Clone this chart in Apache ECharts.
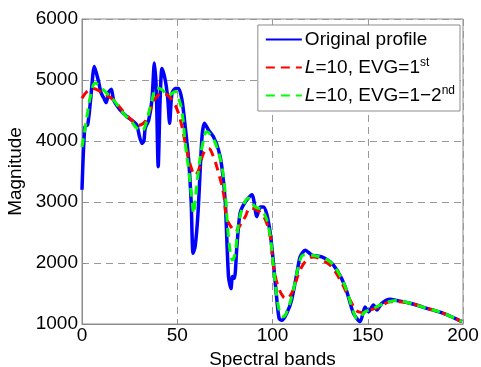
<!DOCTYPE html>
<html>
<head>
<meta charset="utf-8">
<script src="https://cdn.jsdelivr.net/npm/echarts@6/dist/echarts.min.js"></script>
<style>
  html, body { margin: 0; padding: 0; background: #fff; }
  #main { width: 481px; height: 367px; }
</style>
</head>
<body>
<div id="main"></div>
<script>
// axis ticks
var xTicks = [0, 50, 100, 150, 200];
var yTicks = [1000, 2000, 3000, 4000, 5000, 6000];

// original profile
var origBands = [0, 1.5, 3, 4.5, 6.5, 8.5, 10, 11.5, 12.7, 14, 15.4, 16.6, 20, 23.6, 27, 28.8, 30.2, 31.5, 32.5, 33.2,
  35, 36.7, 38, 39, 40, 41, 42, 43.7, 45, 46, 47.2, 49, 50.7, 52.5, 54.2, 56, 57.3, 58.3, 59.4, 60.9,
  63, 64.3, 66.4, 69, 71.7, 73.4, 75.2, 76.9, 78.2, 79, 80, 81.3, 83, 85.7, 89.2, 91.8, 93.5, 95.3, 97, 98.8,
  100.5, 102.3, 103.5, 105, 107.5, 110, 112.8, 114.5, 117.2, 120.7, 125.9, 130.3, 133.8, 138.2, 142.5, 146, 148.6, 150.4, 153, 154.8,
  157.4, 161.7, 165.3, 172.2, 181, 189.7, 199.4];
var origValues = [3200, 4230, 4270, 4670, 5220, 5000, 4790, 4700, 4630, 4800, 4850, 4670, 4510, 4400, 4320, 4260, 4070, 3960, 4000, 4210,
  4340, 4670, 5280, 4840, 3580, 4670, 5190, 5000, 4700, 4290, 4780, 4860, 4860, 4670, 4230, 3690, 3000, 2160, 2270, 2820,
  4070, 4290, 4180, 4070, 3850, 3580, 3000, 1780, 1580, 1780, 1750, 2270, 2820, 3000, 3120, 2760, 2920, 2920, 2800, 2490,
  2000, 1390, 1090, 1060, 1175, 1390, 1830, 2100, 2210, 2130, 2100, 2020, 1885, 1610, 1175, 1040, 1280, 1200, 1310, 1230,
  1340, 1405, 1385, 1340, 1257, 1175, 1040];

// L=10, EVG=1st
var evg1Bands = [0, 2.6, 6, 9.6, 13, 16.6, 21.8, 26.2, 29.7, 33.2, 35.8, 38.5, 42, 45, 48, 50.7, 52.5, 55, 57.7, 59.4,
  61.2, 63.8, 66.4, 69, 71.7, 74.3, 76, 78.7, 80.4, 83, 85.7, 88.3, 91.8, 95.3, 97, 99, 100.5, 103, 105.8, 107.5,
  110, 112, 114.5, 118, 121.5, 126, 131, 136.4, 140.8, 145.1, 148, 151.3, 156.5, 161.7, 172.2, 181, 189.7, 199.4];
var evg1Values = [4700, 4810, 4860, 4810, 4750, 4670, 4480, 4340, 4260, 4320, 4510, 4700, 4780, 4750, 4640, 4450, 4230, 3850, 3525, 3440,
  3525, 3800, 3880, 3740, 3470, 3140, 2730, 2570, 2510, 2620, 2760, 2900, 2870, 2760, 2650, 2400, 1950, 1610, 1440, 1420,
  1500, 1670, 1885, 2050, 2100, 2050, 1940, 1670, 1390, 1200, 1190, 1230, 1284, 1366, 1340, 1257, 1175, 1040];

// L=10, EVG=1-2nd
var evg12Bands = [0, 2.6, 4.4, 7, 9.6, 13, 16.6, 21.8, 26.2, 28.8, 31.5, 34, 36.7, 39.3, 42, 45.4, 49, 50.7, 52.5, 54.2,
  56, 57.7, 58.6, 59.4, 61.2, 63, 65.6, 68.2, 70.8, 73.4, 75.2, 76.9, 79, 80.4, 82.2, 84.8, 87.4, 90.9, 94.4, 97.9,
  100.5, 102.3, 104, 105.8, 108.4, 111, 113.6, 116.3, 119, 125.9, 130.3, 133.8, 138.2, 143.4, 145, 148.6, 153, 156.5, 161.7, 165.3,
  172.2, 181, 189.7, 199.4];
var evg12Values = [3900, 4400, 4730, 4950, 4890, 4780, 4670, 4450, 4310, 4210, 4170, 4340, 4670, 4870, 4840, 4750, 4810, 4700, 4480, 3960,
  3525, 3030, 2810, 3030, 3525, 3900, 4150, 4070, 3900, 3580, 3140, 2430, 2050, 2160, 2650, 2950, 3060, 2920, 2870, 2600,
  1940, 1450, 1175, 1120, 1280, 1560, 1940, 2130, 2130, 2090, 2020, 1885, 1610, 1120, 1090, 1200, 1257, 1311, 1370, 1385,
  1340, 1257, 1175, 1040];

function pairs(xs, ys) {
  var out = [];
  for (var i = 0; i < xs.length; i++) out.push([xs[i], ys[i]]);
  return out;
}

var chart = echarts.init(document.getElementById('main'));
var font = 'Liberation Sans';
var option = {
  animation: false,
  backgroundColor: '#fff',
  grid: {
    left: 82, right: 18, top: 19, bottom: 43,
    containLabel: false,
    outerBoundsMode: 'none',
    show: true,
    borderColor: '#8c8c8c',
    borderWidth: 1
  },
  legend: {
    orient: 'vertical',
    right: 21,
    top: 25,
    itemWidth: 36,
    itemHeight: 14,
    itemGap: 8,
    padding: [5, 5, 6, 7],
    backgroundColor: '#fff',
    borderColor: '#8c8c8c',
    borderWidth: 1,
    borderRadius: 0,
    itemStyle: { opacity: 0 },
    textStyle: {
      fontFamily: font,
      fontSize: 19,
      color: '#000',
      padding: [0, 0, 0, -2],
      rich: {
        i: { fontFamily: font, fontSize: 19, fontStyle: 'italic', color: '#000' },
        sup: { fontFamily: font, fontSize: 12, verticalAlign: 'bottom', padding: [0, 0, 9, 0], color: '#000' }
      }
    },
    formatter: function (name) {
      if (name === 'evg1') return '{i|L}=10, EVG=1{sup|st}';
      if (name === 'evg12') return '{i|L}=10, EVG=1\u22122{sup|nd}';
      return 'Original profile';
    },
    data: ['orig', 'evg1', 'evg12']
  },
  xAxis: {
    type: 'value',
    min: 0, max: 200, interval: 50,
    name: 'Spectral bands',
    nameLocation: 'center',
    nameGap: 25,
    nameTextStyle: { fontFamily: font, fontSize: 19, color: '#000' },
    axisLine: { lineStyle: { color: '#8c8c8c' } },
    axisTick: { inside: true, length: 4, lineStyle: { color: '#8c8c8c' } },
    axisLabel: {
      fontFamily: font, fontSize: 19, color: '#000', margin: 2,
      formatter: function (v) { return xTicks.indexOf(v) >= 0 ? String(v) : ''; }
    },
    splitLine: { show: true, lineStyle: { color: '#999', type: [7, 5], width: 1 } }
  },
  yAxis: {
    type: 'value',
    min: 1000, max: 6000, interval: 1000,
    name: 'Magnitude',
    nameLocation: 'center',
    nameGap: 51,
    nameTextStyle: { fontFamily: font, fontSize: 19, color: '#000' },
    axisLine: { show: true, lineStyle: { color: '#8c8c8c' } },
    axisTick: { show: true, inside: true, length: 4, lineStyle: { color: '#8c8c8c' } },
    axisLabel: {
      fontFamily: font, fontSize: 19, color: '#000', margin: 4,
      formatter: function (v) { return yTicks.indexOf(v) >= 0 ? String(v) : ''; }
    },
    splitLine: { show: true, lineStyle: { color: '#999', type: [7, 5], width: 1 } }
  },
  series: [
    {
      name: 'orig',
      type: 'line',
      data: pairs(origBands, origValues),
      symbol: 'none',
      smooth: 0.25,
      color: '#0000ff',
      lineStyle: { color: '#0000ff', width: 3.5 }
    },
    {
      name: 'evg1',
      type: 'line',
      data: pairs(evg1Bands, evg1Values),
      symbol: 'none',
      smooth: 0.4,
      color: '#ff0000',
      lineStyle: { color: '#ff0000', width: 3, type: [9, 6] }
    },
    {
      name: 'evg12',
      type: 'line',
      data: pairs(evg12Bands, evg12Values),
      symbol: 'none',
      smooth: 0.4,
      color: '#00ff00',
      lineStyle: { color: '#00ff00', width: 3, type: [9, 6] }
    }
  ]
};
chart.setOption(option);
</script>
</body>
</html>
